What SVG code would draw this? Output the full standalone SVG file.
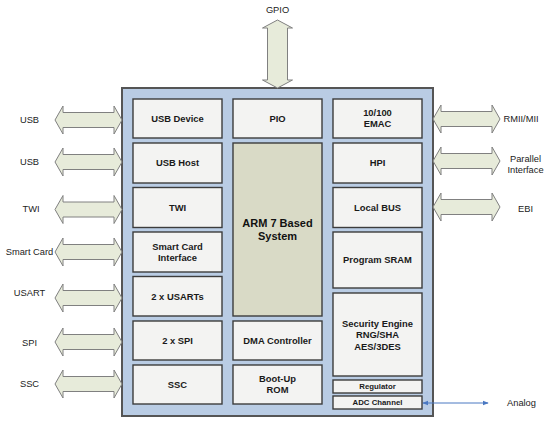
<svg xmlns="http://www.w3.org/2000/svg" width="553" height="422" viewBox="0 0 553 422">
<style>
.lbl{font-family:"Liberation Sans",Arial,sans-serif;font-size:9.3px;fill:#222;text-anchor:middle}
.bt{font-family:"Liberation Sans",Arial,sans-serif;font-size:9.4px;font-weight:bold;fill:#1a1a1a;text-anchor:middle}
.bs{font-family:"Liberation Sans",Arial,sans-serif;font-size:7.8px;font-weight:bold;fill:#1a1a1a;text-anchor:middle}
.arm{font-family:"Liberation Sans",Arial,sans-serif;font-size:11px;font-weight:bold;fill:#111;text-anchor:middle}
.box{fill:#f3f3f2;stroke:#3c3c3c;stroke-width:1.4}
.arr{fill:#e7ebda;stroke:#808080;stroke-width:1}
</style>
<defs>
<path id="harr" d="M0,0 L8,-14 L8,-7.5 L59,-7.5 L59,-14 L67,0 L59,14 L59,7.5 L8,7.5 L8,14 Z"/>
<marker id="ah" viewBox="0 0 8 8" refX="7" refY="4" markerWidth="6" markerHeight="6" orient="auto-start-reverse">
<path d="M0,1 L8,4 L0,7 Z" fill="#4a78c2"/>
</marker>
</defs>
<rect width="553" height="422" fill="#ffffff"/>
<g id="chip">
<rect x="122" y="88" width="311" height="328" fill="#b9cce4" stroke="#555" stroke-width="2"/>
</g>
<g id="connectors">
<path class="arr" d="M277.5,20 L292.5,28 L287.5,28 L287.5,80 L292.5,80 L277.5,88 L262.5,80 L267.5,80 L267.5,28 L262.5,28 Z"/>
<use href="#harr" class="arr" transform="translate(55,120)"/>
<use href="#harr" class="arr" transform="translate(55,162)"/>
<use href="#harr" class="arr" transform="translate(55,209.5)"/>
<use href="#harr" class="arr" transform="translate(55,252)"/>
<use href="#harr" class="arr" transform="translate(55,298)"/>
<use href="#harr" class="arr" transform="translate(55,342)"/>
<use href="#harr" class="arr" transform="translate(55,384)"/>
<use href="#harr" class="arr" transform="translate(433,119)"/>
<use href="#harr" class="arr" transform="translate(433,161)"/>
<use href="#harr" class="arr" transform="translate(433,207)"/>
<line x1="423" y1="403" x2="488" y2="403" stroke="#4a78c2" stroke-width="1" marker-start="url(#ah)" marker-end="url(#ah)"/>
</g>
<g id="labels">
<text class="lbl" x="277.5" y="13">GPIO</text>
<text class="lbl" x="29.5" y="123.3">USB</text>
<text class="lbl" x="29.5" y="165.3">USB</text>
<text class="lbl" x="31" y="212.3">TWI</text>
<text class="lbl" x="29.5" y="255.3">Smart Card</text>
<text class="lbl" x="29.5" y="296.3">USART</text>
<text class="lbl" x="29.5" y="346.3">SPI</text>
<text class="lbl" x="29.5" y="387.3">SSC</text>
<text class="lbl" x="521" y="122.3">RMII/MII</text>
<text class="lbl" x="525.5" y="162.3">Parallel</text>
<text class="lbl" x="525.5" y="173.3">Interface</text>
<text class="lbl" x="525.5" y="212.3">EBI</text>
<text class="lbl" x="521.5" y="406.3">Analog</text>
</g>
<g id="usb-device"><rect class="box" x="133" y="99" width="89" height="39"/><text class="bt" x="177.5" y="121.5">USB Device</text></g>
<g id="usb-host"><rect class="box" x="133" y="143" width="89" height="40"/><text class="bt" x="177.5" y="166">USB Host</text></g>
<g id="twi"><rect class="box" x="133" y="187.5" width="89" height="40"/><text class="bt" x="177.5" y="211">TWI</text></g>
<g id="smart-card"><rect class="box" x="133" y="232" width="89" height="40"/><text class="bt" x="177.5" y="249.5">Smart Card</text><text class="bt" x="177.5" y="260.5">Interface</text></g>
<g id="usarts"><rect class="box" x="133" y="276.5" width="89" height="39.5"/><text class="bt" x="177.5" y="299.5">2 x USARTs</text></g>
<g id="spi"><rect class="box" x="133" y="321" width="89" height="39"/><text class="bt" x="177.5" y="344">2 x SPI</text></g>
<g id="ssc"><rect class="box" x="133" y="365" width="89" height="39"/><text class="bt" x="177.5" y="388">SSC</text></g>
<g id="pio"><rect class="box" x="233" y="99" width="89" height="39"/><text class="bt" x="277.5" y="121.5">PIO</text></g>
<g id="arm7"><rect x="233" y="143" width="89" height="173" fill="#d9dac6" stroke="#3c3c3c" stroke-width="1.4"/><text class="arm" x="277.5" y="226.5">ARM 7 Based</text><text class="arm" x="277.5" y="239.5">System</text></g>
<g id="dma"><rect class="box" x="233" y="321" width="89" height="39"/><text class="bt" x="277.5" y="344">DMA Controller</text></g>
<g id="boot-rom"><rect class="box" x="233" y="365" width="89" height="39"/><text class="bt" x="277.5" y="381.5">Boot-Up</text><text class="bt" x="277.5" y="393">ROM</text></g>
<g id="emac"><rect class="box" x="333" y="99" width="89" height="39"/><text class="bt" x="377.5" y="115.5">10/100</text><text class="bt" x="377.5" y="126.5">EMAC</text></g>
<g id="hpi"><rect class="box" x="333" y="143" width="89" height="40"/><text class="bt" x="377.5" y="166">HPI</text></g>
<g id="local-bus"><rect class="box" x="333" y="187.5" width="89" height="40"/><text class="bt" x="377.5" y="211">Local BUS</text></g>
<g id="program-sram"><rect class="box" x="333" y="232" width="89" height="56"/><text class="bt" x="377.5" y="262.5">Program SRAM</text></g>
<g id="security-engine"><rect class="box" x="333" y="293" width="89" height="83"/><text class="bt" x="377.5" y="326.5">Security Engine</text><text class="bt" x="377.5" y="338">RNG/SHA</text><text class="bt" x="377.5" y="349.5">AES/3DES</text></g>
<g id="regulator"><rect class="box" x="333" y="380" width="89" height="13"/><text class="bs" x="377.5" y="389.3">Regulator</text></g>
<g id="adc-channel"><rect class="box" x="333" y="396" width="89" height="13"/><text class="bs" x="377.5" y="405.3">ADC Channel</text></g>
</svg>
